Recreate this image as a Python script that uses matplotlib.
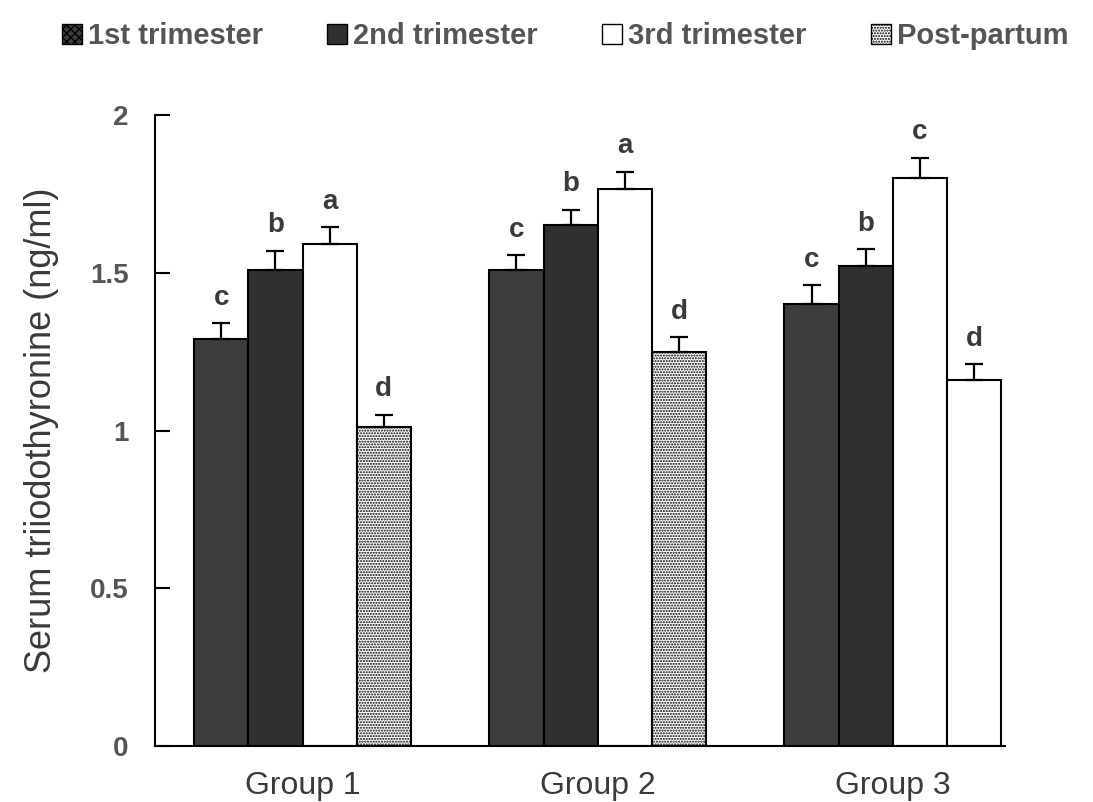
import numpy as np
import matplotlib
matplotlib.use("Agg")
import matplotlib.pyplot as plt
from matplotlib.patches import Patch

# data
groups = ["Group 1", "Group 2", "Group 3"]
series = ["1st trimester", "2nd trimester", "3rd trimester", "Post-partum"]
first_tri = [1.29, 1.51, 1.40]
second_tri = [1.51, 1.65, 1.52]
third_tri = [1.59, 1.765, 1.80]
post_partum = [1.01, 1.25, 1.16]
first_err = [0.05, 0.045, 0.06]
second_err = [0.06, 0.05, 0.055]
third_err = [0.055, 0.055, 0.065]
post_err = [0.04, 0.045, 0.05]
letters = [["c", "b", "a", "d"], ["c", "b", "a", "d"], ["c", "b", "c", "d"]]

plt.rcParams['font.family'] = ['Liberation Sans', 'DejaVu Sans']
txt = '#3a3a3a'

fig = plt.figure(figsize=(10.93, 8.02), dpi=100)
ax = fig.add_axes([0.1418, 0.0698, 0.7777, 0.7868])

x = np.arange(len(groups))
w = 0.1836
values = [first_tri, second_tri, third_tri, post_partum]
errors = [first_err, second_err, third_err, post_err]
faces = ['#3d3d3d', '#303030', 'white', 'white']
hatches = [None, None, None, '......']

for i, (vals, errs) in enumerate(zip(values, errors)):
    pos = x + (i - 1.5) * w
    bars = ax.bar(pos, vals, w, color=faces[i], edgecolor='black',
                  linewidth=1.5, hatch=hatches[i], zorder=2)
    if i == 3:
        bars[2].set_hatch('')
    ax.errorbar(pos, vals, yerr=[np.zeros(len(vals)), errs], fmt='none',
                ecolor='black', elinewidth=1.6, capsize=6.5, capthick=1.6,
                zorder=3)
    for j in range(len(groups)):
        ax.annotate(letters[j][i], (pos[j], vals[j] + errs[j]),
                    xytext=(0, 9), textcoords='offset points',
                    ha='center', va='bottom', fontsize=20,
                    fontweight='bold', color=txt)

ax.set_xlim(-0.5, 2.38)
ax.set_ylim(0, 2)
ax.set_yticks([0, 0.5, 1, 1.5, 2])
ax.set_yticklabels(['0', '0.5', '1', '1.5', '2'], fontweight='bold')
ax.set_xticks(x)
ax.set_xticklabels(groups)
for s in ['top', 'right']:
    ax.spines[s].set_visible(False)
for s in ['left', 'bottom']:
    ax.spines[s].set_linewidth(1.5)
ax.tick_params(axis='y', direction='in', length=11, width=1.5,
               labelsize=20, pad=19, labelcolor='#555555')
ax.tick_params(axis='x', length=0, labelsize=23, pad=18, labelcolor=txt)
ax.set_ylabel('Serum triiodothyronine (ng/ml)', fontsize=26, color=txt,
              labelpad=22)

handles = [Patch(facecolor=faces[i], edgecolor='black', hatch=hatches[i],
                 linewidth=1) for i in range(4)]
handles[0].set_hatch('xxxx')
fig.legend(handles, series, loc='upper center', bbox_to_anchor=(0.517, 1.005),
           ncol=4, frameon=False, handlelength=0.7, handleheight=0.7,
           handletextpad=0.2, columnspacing=2.2,
           prop={'size': 21, 'weight': 'bold'}, labelcolor='#555555')

fig.savefig('out.png', dpi=100)
